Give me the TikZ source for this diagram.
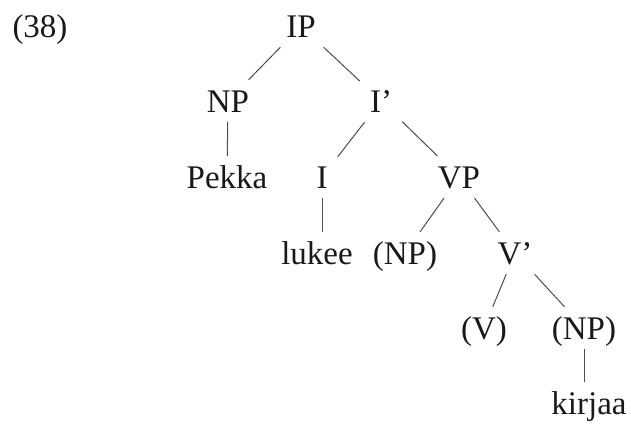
\documentclass[tikz,border=0pt]{standalone}
\usepackage{fontspec}
\setmainfont{Liberation Serif}
\usetikzlibrary{positioning}

\tikzset{
  cat/.style={anchor=base, inner sep=10pt, text height=22pt, text depth=0pt,
              font=\fontsize{33}{40}\selectfont, text=black!90},
  branch/.style={draw=black!70, line width=1pt}
}

\begin{document}
\begin{tikzpicture}[x=1pt,y=-1pt]
   \useasboundingbox (0,0) rectangle (631,423);
   \node[cat] (ex)    at (40,37)  {(38)};
   \node[cat] (ip)    at (301,37) {IP};
   \node[cat] (np1)   at (228,112) {NP};
   \node[cat] (ibar)  at (381,112) {I’};
   \node[cat] (pekka) at (227,188) {Pekka};
   \node[cat] (i)     at (322,188) {I};
   \node[cat] (vp)    at (459,188) {VP};
   \node[cat] (lukee) at (317,264) {lukee};
   \node[cat] (np2)   at (405,264) {(NP)};
   \node[cat] (vbar)  at (515,264) {V’};
   \node[cat] (v)     at (484,339) {(V)};
   \node[cat] (np3)   at (584,339) {(NP)};
   \node[cat] (kirjaa) at (589,414) {kirjaa};
    \path[branch]
    (ip)    edge (np1)
            edge (ibar)
    (np1)   edge (pekka)
    (ibar)  edge (i)
            edge (vp)
    (i)     edge (i |- lukee.north)
    (vp)    edge (np2)
            edge (vbar)
    (vbar)  edge (v)
            edge (np3)
    (np3)   edge (np3 |- kirjaa.north);
\end{tikzpicture}
\end{document}
